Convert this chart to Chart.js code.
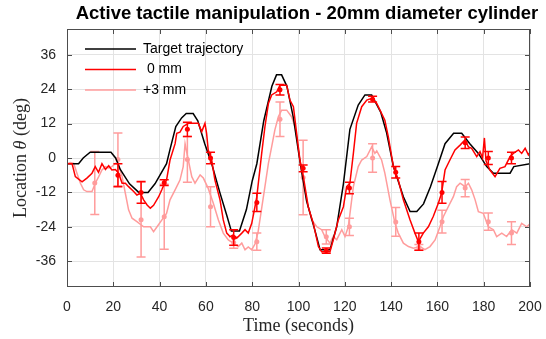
<!DOCTYPE html>
<html lang="en">
<head>
<meta charset="UTF-8">
<title>Active tactile manipulation - 20mm diameter cylinder</title>
<script src="https://cdn.jsdelivr.net/npm/chart.js"></script>
<style>
    html, body { margin: 0; padding: 0; background: #fff; }
    #wrap { width: 546px; height: 339px; }
</style>
</head>
<body>
<div id="wrap"><canvas id="chart" width="546" height="339"></canvas></div>
<script>
    // axis ticks
    const xTicks = [0, 20, 40, 60, 80, 100, 120, 140, 160, 180, 200];
    const yTicks = [-36, -24, -12, 0, 12, 24, 36];

    // target trajectory (black)
    const targetT = [0,5,7,10,19,21,23,27,31,35,38,43,44.5,47,49.5,51.5,54.5,56.5,59.5,62.5,66,69,71,74.5,77.5,80,82,85,88.5,90.5,92.7,95,97.8,100.6,103.5,107,109.3,113.6,116.5,119.4,122.2,125.8,128.7,131.6,135.5,138,141,145.3,148.2,151.1,154,157,160.4,163.3,167,170.5,174,177.7,181.3,184.2,191.4,193,200];
    const targetY = [-2,-2,0,2,2,0,-4,-9,-12,-12,-9,-2,3,11,14,15.5,15.5,13,5,-2,-12,-20,-25.5,-25.5,-18,-8,-2,13,25,29,29,25,14,-1,-15,-25,-32,-32,-24,-9,10,18.5,22,22,16,9,-3,-13.5,-18.7,-18.7,-16,-10,-2,5,8.6,8.6,5,1.6,-3,-5.3,-5.3,-3,-2];

    // 0 mm (red)
    const zeroT = [0,2.2,3.6,6.5,8.6,10.8,12.2,13.6,15.1,16.6,18,19.4,20.9,22.3,23.8,25.2,26.6,28.8,30.2,31.7,33.1,34.6,36,37.4,39.6,41,42.3,43,44.5,46.7,47.4,48.8,50.2,51.7,52.4,56.7,58.2,59.6,60.3,61,62.5,63.9,66.1,67.5,69,70.4,71.8,73.3,75.5,76.9,78.3,79.8,81.2,82,84.1,85.5,87,88.4,90.6,92,94.9,96.3,97.8,99.2,100.6,102.1,104.2,106.4,108.6,110,113.6,115,117.2,119.4,120.8,122.2,123.7,125.1,127.3,129.5,131.6,133.8,135.2,137.3,138.8,141,143.1,145.3,148.2,150.3,151.8,153.9,156.1,158.2,160.4,161.8,163.3,165.4,167.6,169.8,171.9,173.4,174.8,177,178.4,179.5,180.3,181,182.7,184.9,187,189.2,191.4,192.8,195,196.4,197.9,199.3,200];
    const zeroY = [-2,-2,-6.5,-8.3,-7,-5.3,-3,-5,-2,-4,-2.7,-4.2,-4,-5.3,-8.8,-8.8,-10,-11.7,-12.9,-12.3,-14.6,-16.4,-17.5,-16.5,-13.5,-11,-8.5,-7.7,-0.7,5,8.6,9,11,11.7,12.1,12.1,9.2,12.1,8.6,2.8,-0.7,-7.7,-14.6,-21.6,-26.2,-27.4,-26.8,-28,-26.2,-25,-26.2,-22.8,-17,-13.5,1.6,10.9,19,22,23.1,25.4,25.4,20.2,17.9,8.6,-0.7,-6.5,-17,-22.8,-30.9,-32.7,-32.7,-28.6,-21.6,-17,-10,-8.8,1.6,12.1,17.9,20.2,20.8,19,16.7,13.2,7.4,-3,-7.7,-14.6,-21.6,-26.2,-29.2,-26.2,-24,-20.4,-15.8,-12.3,-4.2,-0.7,2.8,4.5,6.3,3.9,3.4,0.5,2.2,0,7,-1,-4.2,-6.5,-3.6,-3,0.5,1.6,2.8,1.6,3.4,1.1,2];

    // +3 mm (pink)
    const plusT = [0,1.4,2.9,4.3,5.8,7.2,8.6,10.8,12.2,13.7,15.1,16.6,18,19.4,20.9,22.3,23.8,25.2,26.6,28.1,30.2,33.1,36,37.4,38.9,41,43,44.5,46.7,48.8,50.2,51,52.4,53.9,55.3,57.5,58.9,61,63.2,65.4,67.5,69.7,71.8,74,75.5,76.9,78.3,79.8,81.2,82.5,84,85.5,87,88.4,89.8,91.3,92.7,94.9,97,98.5,99.9,101.4,102.8,104.2,105.7,107.9,110,111.4,113.6,115,116.5,118.7,120.1,121.5,123.7,125.8,127.3,129.5,131.6,133,133.8,135.9,137.3,139.5,141.7,143.1,145.3,147.5,149.6,152.5,154.6,156.8,159,161.1,162.6,164.7,166.9,168.3,169.8,172,173.4,174.8,176.3,177.7,179.8,182,184.2,185.6,187.8,189.9,192.1,194.3,196.4,198.6,200];
    const plusY = [-2,-1.6,-1.9,-5.3,-8.8,-11.1,-11.7,-11.7,-8.8,-6.5,-4.2,-3,-3.5,-3,-1.9,-2.5,-6.5,-12.3,-18.1,-21,-22.2,-24,-24,-25.7,-24,-21.6,-19.3,-14.6,-11.1,-7.7,-3,5,-0.7,-6.5,-8.8,-5.9,-7,-10.6,-15.8,-21.6,-26.2,-28.6,-29.7,-30.9,-29.7,-32,-31,-32,-30,-26,-18,-10,-1.9,3.9,9.8,14.4,16.7,16.7,14.4,10.9,3.9,-5.3,-11.1,-17,-21.6,-24,-25,-27.4,-29.7,-27.4,-28.5,-25,-27.4,-24,-10,-3,-0.7,0.5,3.9,1.6,2.5,-0.7,-5.3,-14.6,-22.8,-26.2,-29.7,-30.9,-31.5,-30.9,-32,-30.9,-28.6,-24,-20.4,-17,-13.5,-10,-8.8,-10,-8.8,-11.1,-14.6,-18.7,-19.3,-24,-25,-27.4,-26.2,-27.4,-25,-26.2,-22.8,-24,-23];

    // error bar samples
    const errT = [12, 22, 32, 42, 52, 62, 72, 82, 92, 102, 112, 122, 132, 142, 152, 162, 172, 182, 192];
    const zeroMean = [null, -6, -12, -8.6, 10, 0, -27.7, -15.5, 23.8, -3.6, -32.3, -10.5, 20.5, -5, -29.2, -12, 5.3, 0, 0];
    const zeroErr = [null, 4, 3.8, 1, 2.5, 2, 2.7, 3.2, 1.8, 1.2, 0.9, 2, 1, 2, 3, 3.8, 2, 2.3, 2];
    const plusMean = [-8.7, -0.5, -21.5, -20.5, -0.5, -17, -29.5, -29.2, 13.5, -6.8, -27.5, -24, 0, -22.3, -31.2, -22.2, -10.5, -22.2, -26.2];
    const plusErr = [11, 9.2, 13, 11.3, 8, 7, 2, 3, 6, 13, 2.5, 3, 5, 5, 1, 4, 3, 3, 4];

    const seriesNames = ['Target trajectory', ' 0 mm', '+3 mm'];
    const seriesColors = ['#000000', '#ff0000', '#ff9c9c'];

    function pts(xs, ys) {
        return xs.map((x, i) => ({ x: x, y: ys[i] }));
    }
    function errPts(means, errs) {
        return errT.map((t, i) => ({ x: t, y: means[i], e: errs[i] })).filter(p => p.y !== null);
    }

    // error bars, frame, inward ticks, legend, title, axis labels
    const decorations = {
        id: 'decorations',
        afterDatasetDraw(chart, args) {
            const ds = chart.data.datasets[args.index];
            if (!ds.errorBars) return;
            const { ctx, scales: { x, y } } = chart;
            ctx.save();
            ctx.strokeStyle = ds.backgroundColor;
            ctx.lineWidth = 1.5;
            ds.data.forEach(p => {
                const px = x.getPixelForValue(p.x);
                const top = y.getPixelForValue(p.y + p.e);
                const bot = y.getPixelForValue(p.y - p.e);
                ctx.beginPath();
                ctx.moveTo(px, top); ctx.lineTo(px, bot);
                ctx.moveTo(px - 4.5, top); ctx.lineTo(px + 4.5, top);
                ctx.moveTo(px - 4.5, bot); ctx.lineTo(px + 4.5, bot);
                ctx.stroke();
            });
            ctx.restore();
        },
        afterDraw(chart) {
            const { ctx, chartArea: a, scales: { x, y } } = chart;
            ctx.save();

            // box + inward ticks
            ctx.strokeStyle = '#4d4d4d';
            ctx.lineWidth = 1;
            ctx.strokeRect(a.left + 0.5, a.top + 0.5, a.right - a.left - 1, a.bottom - a.top - 1);
            ctx.beginPath();
            xTicks.forEach(v => {
                const px = Math.round(x.getPixelForValue(v)) + 0.5;
                ctx.moveTo(px, a.bottom); ctx.lineTo(px, a.bottom - 5);
                ctx.moveTo(px, a.top); ctx.lineTo(px, a.top + 5);
            });
            yTicks.forEach(v => {
                const py = Math.round(y.getPixelForValue(v)) + 0.5;
                ctx.moveTo(a.left, py); ctx.lineTo(a.left + 5, py);
                ctx.moveTo(a.right, py); ctx.lineTo(a.right - 5, py);
            });
            ctx.stroke();

            // legend
            ctx.font = '14px "Liberation Sans", Arial, sans-serif';
            ctx.textBaseline = 'middle';
            ctx.textAlign = 'left';
            seriesNames.forEach((name, i) => {
                const ly = 49 + i * 20.5;
                ctx.strokeStyle = seriesColors[i];
                ctx.lineWidth = 1.5;
                ctx.beginPath();
                ctx.moveTo(85, ly); ctx.lineTo(136, ly);
                ctx.stroke();
                ctx.fillStyle = '#000';
                ctx.fillText(name, 143, ly);
            });

            // title
            ctx.fillStyle = '#000';
            ctx.font = 'bold 18.5px "Liberation Sans", Arial, sans-serif';
            ctx.textAlign = 'center';
            ctx.fillText('Active tactile manipulation - 20mm diameter cylinder', 307, 14);

            // x label
            ctx.font = '18px "Liberation Serif", serif';
            ctx.fillStyle = '#262626';
            ctx.fillText('Time (seconds)', (a.left + a.right) / 2, 326);

            // y label with italic theta
            const parts = [['Location ', ''], ['\u03b8', 'italic '], [' (deg)', '']];
            let total = 0;
            parts.forEach(p => { ctx.font = p[1] + '18px "Liberation Serif", serif'; total += ctx.measureText(p[0]).width; });
            ctx.translate(21, (a.top + a.bottom) / 2);
            ctx.rotate(-Math.PI / 2);
            ctx.textAlign = 'left';
            let cx = -total / 2;
            parts.forEach(p => {
                ctx.font = p[1] + '18px "Liberation Serif", serif';
                ctx.fillText(p[0], cx, 0);
                cx += ctx.measureText(p[0]).width;
            });
            ctx.restore();
        }
    };

    const tickFont = { family: '"Liberation Sans", Arial, sans-serif', size: 14 };

    new Chart(document.getElementById('chart'), {
        type: 'scatter',
        data: {
            datasets: [
                { label: seriesNames[2], data: pts(plusT, plusY), showLine: true, borderColor: seriesColors[2], borderWidth: 1.5, pointRadius: 0, order: 5 },
                { label: seriesNames[2] + ' mean', data: errPts(plusMean, plusErr), errorBars: true, backgroundColor: seriesColors[2], borderWidth: 0, pointRadius: 2.5, order: 4 },
                { label: seriesNames[0], data: pts(targetT, targetY), showLine: true, borderColor: seriesColors[0], borderWidth: 1.5, pointRadius: 0, order: 3 },
                { label: seriesNames[1], data: pts(zeroT, zeroY), showLine: true, borderColor: seriesColors[1], borderWidth: 1.5, pointRadius: 0, order: 2 },
                { label: seriesNames[1] + ' mean', data: errPts(zeroMean, zeroErr), errorBars: true, backgroundColor: seriesColors[1], borderWidth: 0, pointRadius: 2.5, order: 1 }
            ]
        },
        options: {
            responsive: false,
            animation: false,
            layout: { padding: { top: 29, right: 16, bottom: 0, left: 0 } },
            plugins: {
                legend: { display: false },
                tooltip: { enabled: false },
                title: { display: false }
            },
            elements: { line: { tension: 0 } },
            scales: {
                x: {
                    type: 'linear',
                    min: 0,
                    max: 200,
                    afterBuildTicks: s => { s.ticks = xTicks.map(v => ({ value: v })); },
                    afterFit: s => { s.height = 52; s.paddingLeft = 0; s.paddingRight = 0; },
                    grid: { color: '#e3e3e3', drawTicks: false },
                    border: { display: false },
                    ticks: { padding: 12, color: '#262626', font: tickFont, maxRotation: 0, autoSkip: false }
                },
                y: {
                    type: 'linear',
                    min: -45,
                    max: 45,
                    afterBuildTicks: s => { s.ticks = yTicks.map(v => ({ value: v })); },
                    afterFit: s => { s.width = 67; },
                    grid: { color: '#e3e3e3', drawTicks: false },
                    border: { display: false },
                    ticks: { padding: 11, color: '#262626', font: tickFont, autoSkip: false }
                }
            }
        },
        plugins: [decorations]
    });
</script>
</body>
</html>
